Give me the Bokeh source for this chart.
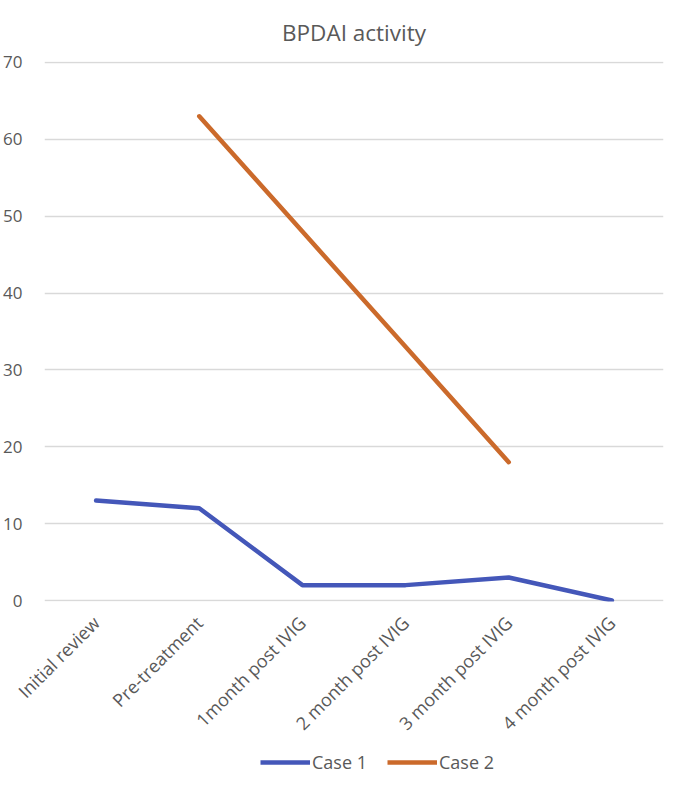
import math
from bokeh.plotting import figure
from bokeh.layouts import column
from bokeh.models import ColumnDataSource, Range1d, FixedTicker, Legend, LegendItem
from bokeh.embed import file_html
from bokeh.resources import INLINE

categories = ["Initial review", "Pre-treatment", "1month post IVIG",
              "2 month post IVIG", "3 month post IVIG", "4 month post IVIG"]
case1 = [13, 12, 2, 2, 3, 0]
case2_categories = ["Pre-treatment", "1month post IVIG", "2 month post IVIG", "3 month post IVIG"]
case2 = [63, 48, 33, 18]
y_ticks = [0, 10, 20, 30, 40, 50, 60, 70]

FONT = "Open Sans"
GREY = "#595959"
BLUE = "#4457B9"
ORANGE = "#CB6A2B"

p = figure(x_range=categories, y_range=Range1d(-0.13, 70.13),
           width=665, height=746,
           output_backend="svg", toolbar_location=None,
           title="BPDAI activity")
p.min_border_left = 36
p.min_border_right = 2
p.min_border_top = 55
p.min_border_bottom = 0
p.outline_line_color = None
p.background_fill_color = "white"
p.border_fill_color = "white"

p.title.align = "center"
p.title.text_font = FONT
p.title.text_font_size = "22.5px"
p.title.text_font_style = "normal"
p.title.text_color = GREY
p.title.standoff = 28

src1 = ColumnDataSource(dict(x=categories, y=case1))
src2 = ColumnDataSource(dict(x=case2_categories, y=case2))
p.line("x", "y", source=src1, line_color=BLUE, line_width=4.5, line_cap="round", line_join="round")
p.line("x", "y", source=src2, line_color=ORANGE, line_width=4.5, line_cap="round", line_join="round")

p.yaxis.ticker = FixedTicker(ticks=y_ticks)
p.yaxis.axis_line_color = None
p.yaxis.major_tick_line_color = None
p.yaxis.minor_tick_line_color = None
p.yaxis.major_label_text_font = FONT
p.yaxis.major_label_text_font_size = "17px"
p.yaxis.major_label_text_color = GREY
p.yaxis.major_label_standoff = 16

p.xaxis.axis_line_color = None
p.xaxis.major_tick_line_color = None
p.xaxis.major_tick_out = 0
p.xaxis.major_label_orientation = math.pi / 4
p.xaxis.major_label_text_font = FONT
p.xaxis.major_label_text_font_size = "18px"
p.xaxis.major_label_text_color = GREY
p.xaxis.major_label_standoff = 18

p.xgrid.grid_line_color = None
p.ygrid.grid_line_color = "#D9D9D9"
p.ygrid.grid_line_width = 1.3

# Legend strip below the chart (same series; lines fall outside its view range)
lp = figure(x_range=p.x_range, y_range=Range1d(100, 101), width=665, height=30,
            output_backend="svg", toolbar_location=None, min_border=0)
lp.xaxis.visible = False
lp.yaxis.visible = False
lp.grid.visible = False
lp.outline_line_color = None
lr1 = lp.line("x", "y", source=src1, line_color=BLUE, line_width=4.5)
lr2 = lp.line("x", "y", source=src2, line_color=ORANGE, line_width=4.5)

legend = Legend(items=[LegendItem(label="Case 1", renderers=[lr1]),
                       LegendItem(label="Case 2", renderers=[lr2])],
                orientation="horizontal", location=(216, 2),
                label_text_font=FONT, label_text_font_size="18px",
                label_text_color=GREY, glyph_width=50, glyph_height=18,
                label_standoff=2, spacing=20, border_line_color=None,
                background_fill_alpha=0, padding=0, margin=0)
lp.add_layout(legend, "center")

layout = column(p, lp, spacing=0)
open("out.html", "w").write(file_html(layout, INLINE))
